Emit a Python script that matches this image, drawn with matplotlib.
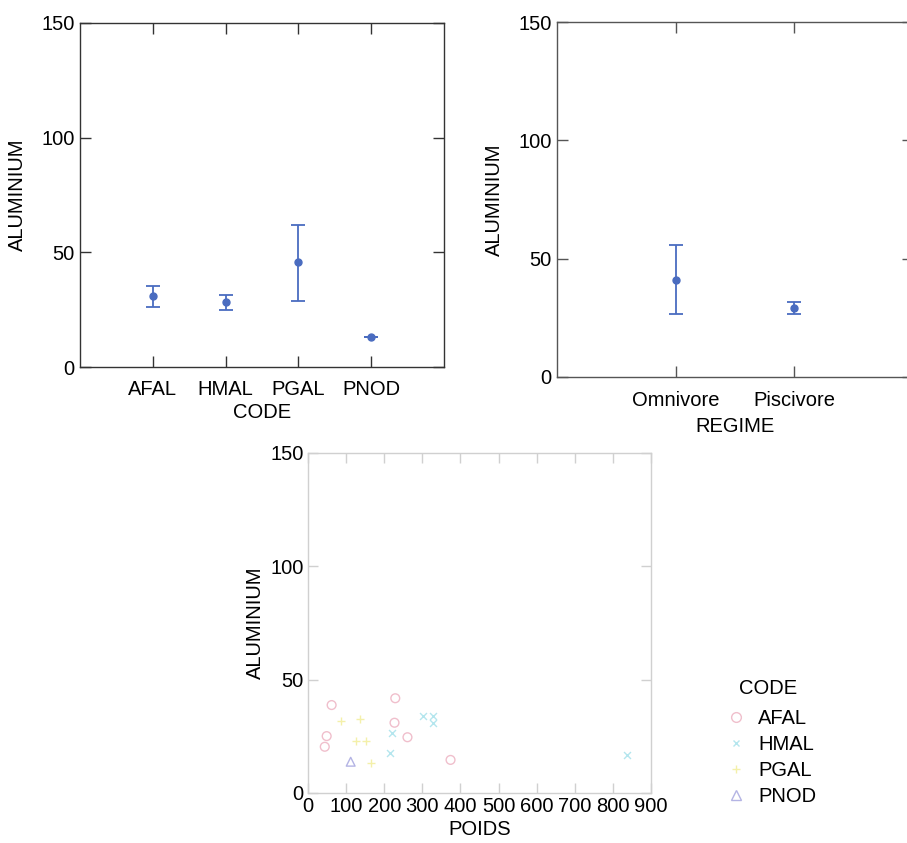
import matplotlib
matplotlib.use("Agg")
import matplotlib.pyplot as plt
from matplotlib.lines import Line2D

plt.rcParams['font.family'] = ['Liberation Sans', 'DejaVu Sans']

# ---- data: ALUMINIUM by CODE (mean with error bounds) ----
codes = ["AFAL", "HMAL", "PGAL", "PNOD"]
code_mean = [31.0, 28.2, 45.8, 13.2]
code_low = [26.3, 24.9, 28.9, 13.2]
code_high = [35.5, 31.3, 62.0, 13.2]

# ---- data: ALUMINIUM by REGIME ----
regimes = ["Omnivore", "Piscivore"]
reg_mean = [41.1, 29.3]
reg_low = [26.5, 26.5]
reg_high = [55.6, 31.8]

# ---- data: scatter POIDS vs ALUMINIUM, by CODE ----
afal_poids = [49, 44, 62, 229, 227, 261, 374]
afal_al = [25.1, 20.4, 38.8, 41.8, 31.0, 24.6, 14.6]
hmal_poids = [303, 327, 327, 221, 214, 836]
hmal_al = [34.0, 34.0, 30.7, 26.3, 17.8, 16.8]
pgal_poids = [86, 136, 125, 151, 164]
pgal_al = [31.9, 32.5, 23.0, 23.0, 13.4]
pnod_poids = [112]
pnod_al = [13.8]

yticks = [0, 50, 100, 150]
xticks_poids = [0, 100, 200, 300, 400, 500, 600, 700, 800, 900]

W, H = 907, 843
fig = plt.figure(figsize=(W / 100, H / 100), dpi=100)

def rect(l, t, r, b):
    return [l / W, 1 - b / H, (r - l) / W, (b - t) / H]

blue = '#4a6cc0'
fs = 14.5

def style(ax, spine_col='#333333'):
    for s in ax.spines.values():
        s.set_color(spine_col)
        s.set_linewidth(1.0)
    ax.tick_params(direction='in', length=8, top=True, right=True,
                   labeltop=False, labelright=False, labelsize=fs,
                   color=spine_col, width=1.0, pad=4)

# Plot 1
ax1 = fig.add_axes(rect(80, 23, 444, 367))
pos1 = list(range(1, len(codes) + 1))
err1 = [[m - l for m, l in zip(code_mean, code_low)],
        [h - m for m, h in zip(code_mean, code_high)]]
ax1.errorbar(pos1, code_mean, yerr=err1, fmt='o', color=blue, ms=5,
             capsize=5, elinewidth=1.3, capthick=1.3)
ax1.set_xlim(0, 5)
ax1.set_ylim(0, 150)
ax1.set_xticks(pos1)
ax1.set_xticklabels(codes)
ax1.set_yticks(yticks)
style(ax1)
ax1.tick_params(axis='x', pad=9)
ax1.set_xlabel("CODE", fontsize=fs, labelpad=3)
ax1.set_ylabel("ALUMINIUM", fontsize=fs, labelpad=10)

# Plot 2
ax2 = fig.add_axes(rect(557, 22, 913, 377))
pos2 = list(range(1, len(regimes) + 1))
err2 = [[m - l for m, l in zip(reg_mean, reg_low)],
        [h - m for m, h in zip(reg_mean, reg_high)]]
ax2.errorbar(pos2, reg_mean, yerr=err2, fmt='o', color=blue, ms=5,
             capsize=5, elinewidth=1.3, capthick=1.3)
ax2.set_xlim(0, 3)
ax2.set_ylim(0, 150)
ax2.set_xticks(pos2)
ax2.set_xticklabels(regimes)
ax2.set_yticks(yticks)
style(ax2, '#555555')
ax2.tick_params(axis='x', pad=10)
ax2.set_xlabel("REGIME", fontsize=fs, labelpad=5)
ax2.set_ylabel("ALUMINIUM", fontsize=fs, labelpad=10)

# Scatter
ax3 = fig.add_axes(rect(308, 453, 651, 793))
c_afal, c_hmal, c_pgal, c_pnod = '#f0bfcc', '#b4e6ee', '#f4f0aa', '#b4b4e4'
ax3.scatter(afal_poids, afal_al, marker='o', facecolors='none', edgecolors=c_afal, s=40, linewidths=1.0)
ax3.scatter(hmal_poids, hmal_al, marker='x', color=c_hmal, s=25, linewidths=1.0)
ax3.scatter(pgal_poids, pgal_al, marker='+', color=c_pgal, s=35, linewidths=1.0)
ax3.scatter(pnod_poids, pnod_al, marker='^', facecolors='none', edgecolors=c_pnod, s=40, linewidths=1.0)
ax3.set_xlim(0, 900)
ax3.set_ylim(0, 150)
ax3.set_xticks(xticks_poids)
ax3.set_yticks(yticks)
style(ax3, '#d0d0d0')
ax3.tick_params(pad=3, length=7)
ax3.set_xlabel("POIDS", fontsize=fs, labelpad=3)
ax3.set_ylabel("ALUMINIUM", fontsize=fs, labelpad=4)

handles = [
    Line2D([], [], marker='o', ls='none', mfc='none', mec=c_afal, ms=7),
    Line2D([], [], marker='x', ls='none', color=c_hmal, ms=5),
    Line2D([], [], marker='+', ls='none', color=c_pgal, ms=6),
    Line2D([], [], marker='^', ls='none', mfc='none', mec=c_pnod, ms=7),
]
fig.text(739 / W, 1 - 688 / H, "CODE", fontsize=fs, ha='left', va='center')
leg = fig.legend(handles, codes, loc='upper left',
                 bbox_to_anchor=(726 / W, 1 - 709 / H), frameon=False,
                 fontsize=fs, handlelength=1.0,
                 handletextpad=0.6, labelspacing=0.35, borderaxespad=0,
                 borderpad=0)

fig.savefig("out.png", dpi=100)
